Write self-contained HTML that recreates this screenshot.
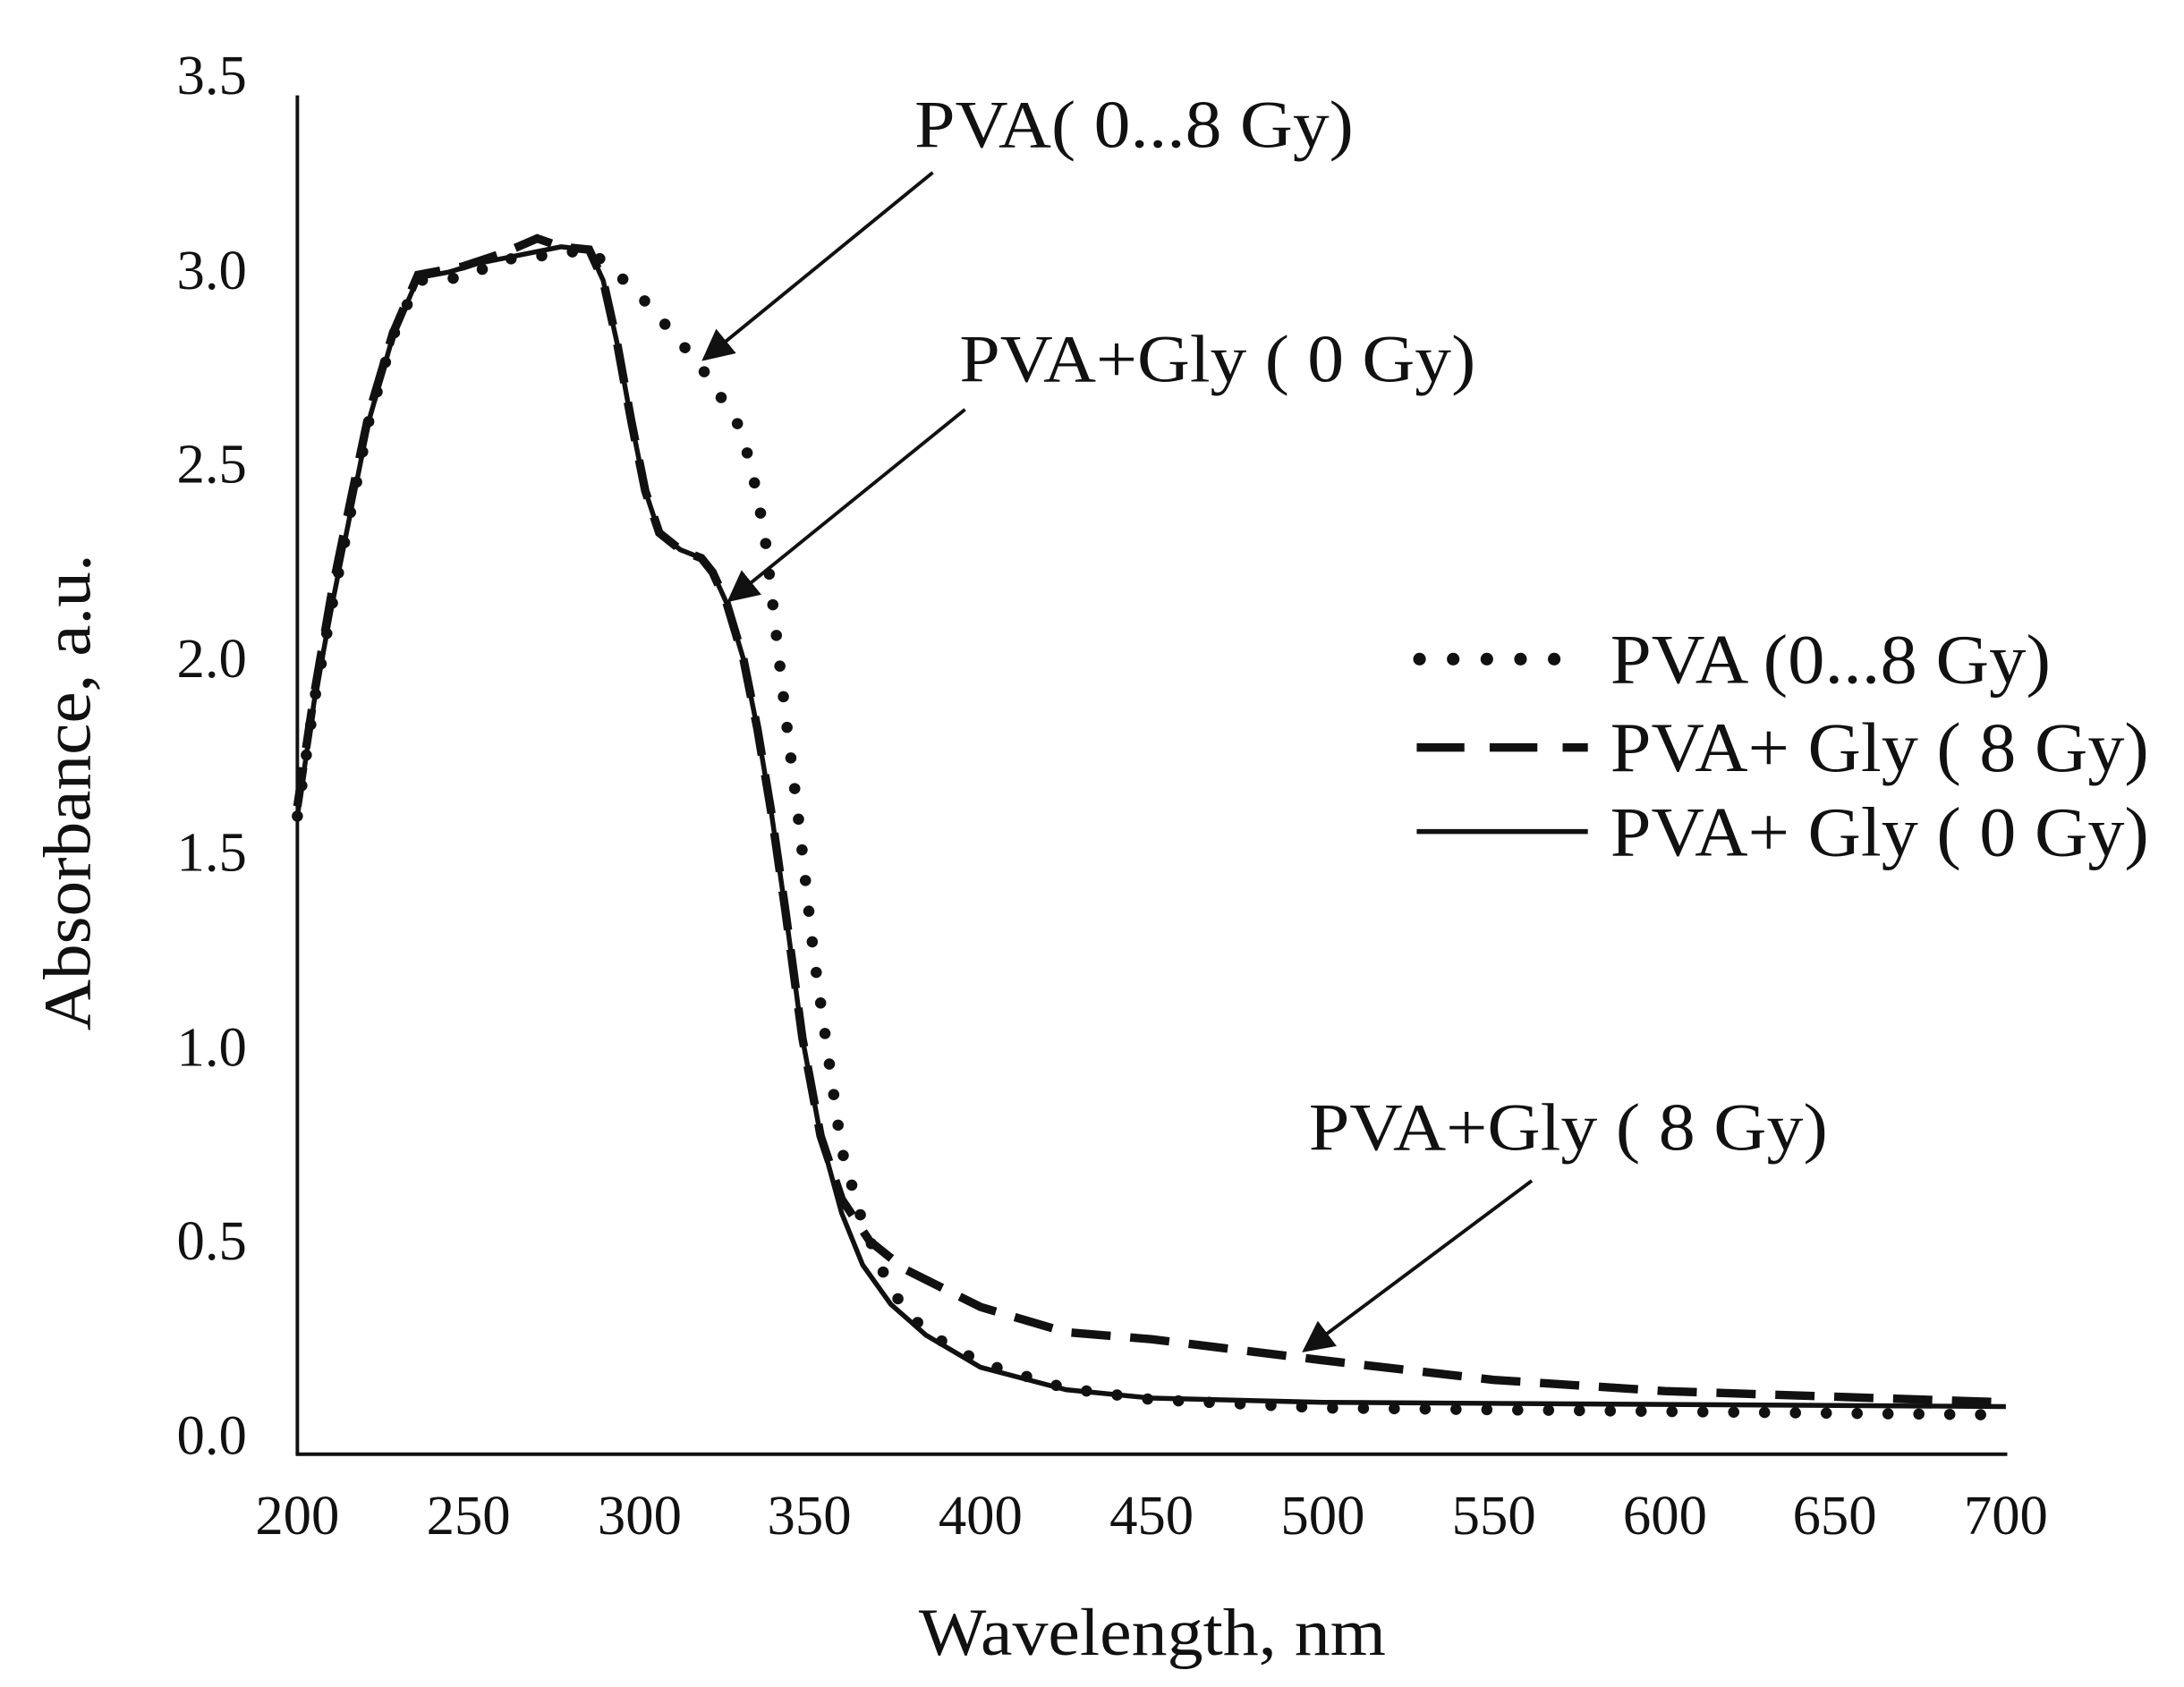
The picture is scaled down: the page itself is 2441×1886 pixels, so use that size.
<!DOCTYPE html>
<html><head><style>html,body{margin:0;padding:0;background:#fff}svg{display:block}text{font-family:"Liberation Serif",serif;fill:#111}</style></head>
<body>
<svg width="2441" height="1886" viewBox="0 0 1557 1203" preserveAspectRatio="none" xmlns="http://www.w3.org/2000/svg">
<defs><marker id="ah" viewBox="0 0 10 10" refX="9" refY="5" markerWidth="9" markerHeight="9" orient="auto"><path d="M0,0 L10,5 L0,10 z" fill="#111"/></marker></defs>
<line x1="212" y1="68" x2="212" y2="1038" stroke="#111" stroke-width="2.5"/>
<line x1="211" y1="1037" x2="1431" y2="1037" stroke="#111" stroke-width="2.5"/>
<g font-size="40" text-anchor="end">
<text x="176" y="1037">0.0</text><text x="176" y="898">0.5</text><text x="176" y="760">1.0</text><text x="176" y="621">1.5</text><text x="176" y="483">2.0</text><text x="176" y="344">2.5</text><text x="176" y="206">3.0</text><text x="176" y="67">3.5</text>
</g>
<g font-size="40" text-anchor="middle">
<text x="212" y="1094">200</text><text x="334" y="1094">250</text><text x="456" y="1094">300</text><text x="577" y="1094">350</text><text x="699" y="1094">400</text><text x="821" y="1094">450</text><text x="943" y="1094">500</text><text x="1065" y="1094">550</text><text x="1187" y="1094">600</text><text x="1308" y="1094">650</text><text x="1430" y="1094">700</text>
</g>
<text x="655" y="1180" font-size="48" textLength="333" lengthAdjust="spacingAndGlyphs">Wavelength, nm</text>
<text transform="translate(64,565) rotate(-90)" font-size="48" text-anchor="middle" textLength="340" lengthAdjust="spacingAndGlyphs">Absorbance, a.u.</text>
<!-- solid -->
<path d="M212,582 L224,500 L237,430 L251,360 L263,300 L280,240 L298,198 L320,194 L340,188 L370,182 L400,176 L420,178 L430,200 L440,245 L450,300 L460,350 L470,380 L485,392 L500,398 L508,408 L518,430 L530,470 L540,520 L550,580 L560,650 L572,740 L585,810 L600,865 L615,902 L635,930 L660,952 L699,975 L760,991 L821,997 L943,1000 L1430,1003" fill="none" stroke="#111" stroke-width="3.5"/>
<!-- dashed -->
<path d="M212,575 L224,495 L237,420 L251,352 L263,295 L280,238 L298,196 L330,190 L360,180 L383,170 L400,176 L420,178 L430,200 L440,245 L450,300 L460,350 L470,380 L485,392 L500,398 L508,408 L518,430 L530,470 L540,520 L550,580 L560,650 L572,740 L585,810 L600,855 L620,885 L645,905 L675,920 L699,932 L760,950 L821,955 L943,970 L1065,984 L1187,992 L1308,996 L1430,1000" fill="none" stroke="#111" stroke-width="6" stroke-dasharray="28,14"/>
<!-- dotted -->
<path d="M212,582 L224,500 L237,430 L251,360 L263,300 L280,240 L298,200 L330,198 L360,185 L390,182 L420,178 L440,195 L460,215 L480,238 L500,262 L525,300 L535,330 L545,380 L552,440 L560,510 L570,590 L580,680 L590,750 L600,820 L615,872 L635,920 L660,950 L700,972 L760,990 L821,998 L943,1004 L1430,1009" fill="none" stroke="#111" stroke-width="8" stroke-dasharray="0,22" stroke-linecap="round"/>
<!-- annotations -->
<g font-size="48">
<text x="652" y="105" textLength="313" lengthAdjust="spacingAndGlyphs">PVA( 0...8 Gy)</text>
<text x="684" y="272" textLength="368" lengthAdjust="spacingAndGlyphs">PVA+Gly ( 0 Gy)</text>
<text x="933" y="820" textLength="370" lengthAdjust="spacingAndGlyphs">PVA+Gly ( 8 Gy)</text>
</g>
<g stroke="#111" stroke-width="2.5" marker-end="url(#ah)">
<line x1="665" y1="123" x2="502" y2="256"/>
<line x1="688" y1="292" x2="520" y2="428"/>
<line x1="1092" y1="842" x2="930" y2="963"/>
</g>
<!-- legend -->
<line x1="1012" y1="470" x2="1130" y2="470" stroke="#111" stroke-width="9" stroke-dasharray="0,24" stroke-linecap="round"/>
<line x1="1010" y1="533" x2="1132" y2="533" stroke="#111" stroke-width="6" stroke-dasharray="34,18"/>
<line x1="1010" y1="593" x2="1132" y2="593" stroke="#111" stroke-width="3.5"/>
<g font-size="50">
<text x="1148" y="487" textLength="314" lengthAdjust="spacingAndGlyphs">PVA (0...8 Gy)</text>
<text x="1148" y="550" textLength="384" lengthAdjust="spacingAndGlyphs">PVA+ Gly ( 8 Gy)</text>
<text x="1148" y="610" textLength="384" lengthAdjust="spacingAndGlyphs">PVA+ Gly ( 0 Gy)</text>
</g>
</svg>
</body></html>
